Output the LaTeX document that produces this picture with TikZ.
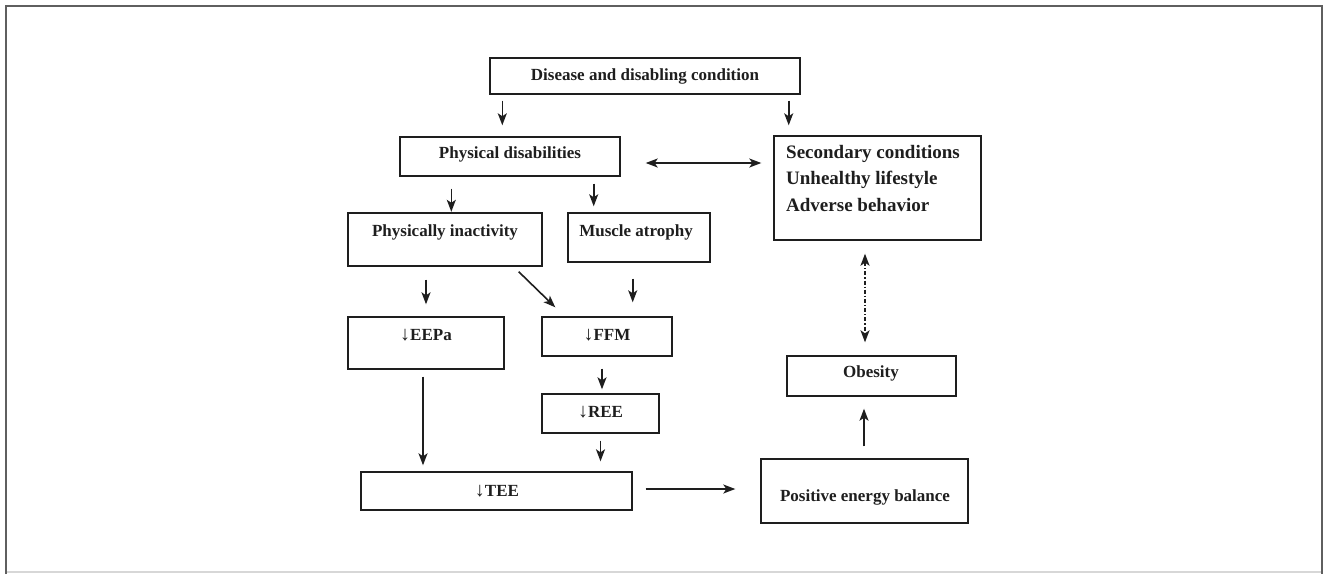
\documentclass[tikz,border=0pt]{standalone}
\usepackage{fontspec}
\setmainfont{Liberation Serif}
\usetikzlibrary{arrows.meta}
\definecolor{linec}{RGB}{30,30,30}
\definecolor{framec}{RGB}{95,95,95}
\definecolor{framel}{RGB}{215,215,215}
\newcommand{\dnarr}{{\fontsize{20}{20}\selectfont↓}}
\begin{document}
\begin{tikzpicture}[x=1pt,y=-1pt,
  box/.style={draw=linec, line width=1.4pt, inner sep=0pt, rectangle},
  txt/.style={font=\fontsize{17}{20}\selectfont\bfseries, text=linec, inner sep=0pt},
  bigtxt/.style={font=\fontsize{19}{24}\selectfont\bfseries, text=linec, inner sep=0pt},
  tip/.tip={Stealth[length=12pt,width=9pt,inset=3pt]},
  arr/.style={draw=linec, line width=1.6pt, -tip},
  dbl/.style={draw=linec, line width=1.6pt, tip-tip},
  dashdotarr/.style={dbl, dash pattern=on 4pt off 2pt on 1.2pt off 2pt}
]
\useasboundingbox (0,0) rectangle (1329,574);
% outer frame
\draw[framel, line width=1.2pt] (6,572) -- (1322,572);
\draw[framec, line width=2pt] (6,574) -- (6,5.5) -- (1322,5.5) -- (1322,574);

% boxes
\node[box, minimum width=310pt, minimum height=36pt, txt] (dis) at (645,76) {Disease and disabling condition};
\node[box, minimum width=220pt, minimum height=39pt] (phy) at (510,156.5) {};
\node[txt, anchor=base] (phyt) at (510,158.5) {Physical disabilities};
\node[box, minimum width=207pt, minimum height=104pt] (sec) at (877.5,188) {};
\node[bigtxt, anchor=base west] (sec1) at (786,158) {Secondary conditions};
\node[bigtxt, anchor=base west] (sec2) at (786,184.5) {Unhealthy lifestyle};
\node[bigtxt, anchor=base west] (sec3) at (786,211) {Adverse behavior};

\node[box, minimum width=194pt, minimum height=53pt] (pi) at (445,239.5) {};
\node[txt, anchor=base] (pit) at (445,236.5) {Physically inactivity};
\node[box, minimum width=142pt, minimum height=49pt] (ma) at (639,237.5) {};
\node[txt, anchor=base] (mat) at (636,236.5) {Muscle atrophy};

\node[box, minimum width=156pt, minimum height=52pt] (eepa) at (426,343) {};
\node[txt, anchor=base] (eepat) at (426,340.5) {\dnarr EEPa};
\node[box, minimum width=130pt, minimum height=39pt] (ffm) at (607,336.5) {};
\node[txt, anchor=base] (ffmt) at (607,340.5) {\dnarr FFM};
\node[box, minimum width=117pt, minimum height=39pt] (ree) at (600.5,413.5) {};
\node[txt, anchor=base] (reet) at (600.5,417) {\dnarr REE};
\node[box, minimum width=271pt, minimum height=38pt] (tee) at (496.5,491) {};
\node[txt, anchor=base] (teet) at (497,496) {\dnarr TEE};

\node[box, minimum width=207pt, minimum height=64pt] (peb) at (864.5,491) {};
\node[txt, anchor=base] (pebt) at (865,501.5) {Positive energy balance};
\node[box, minimum width=169pt, minimum height=40pt] (ob) at (871.5,376) {};
\node[txt, anchor=base] (obt) at (871,377.5) {Obesity};

% connector anchor points
\coordinate (c1) at ([xshift=13pt]dis.south west);
\coordinate (c2) at ([xshift=-12pt]dis.south east);
\coordinate (c3) at ([yshift=-6.5pt]phy.east);
\coordinate (c4) at ([xshift=52pt]phy.south west);
\coordinate (c5) at ([xshift=-27pt]phy.south east);
\coordinate (d1) at ([xshift=-24pt,yshift=-5pt]pi.south east);
\coordinate (d2) at ([xshift=14pt,yshift=9pt]ffm.north west);
\coordinate (c8) at ([xshift=-40pt]ffm.north east);
\coordinate (c9) at ([xshift=-5pt]ffm.south);
\coordinate (c10) at ([xshift=-3pt]eepa.south);
\coordinate (c11) at (ree.south);
\coordinate (c12) at ([yshift=2pt]tee.east);
\coordinate (c13) at ([xshift=-0.5pt]peb.north);
\coordinate (c14) at ([xshift=-12.5pt]sec.south);

% connectors
\draw[arr, shorten <=6pt, shorten >=11pt] (c1) -- (c1 |- phy.north);
\draw[arr, shorten <=6pt, shorten >=10pt] (c2) -- (c2 |- sec.north);
\draw[dbl, shorten <=25pt, shorten >=12pt] (c3) -- (c3 -| sec.west);
\draw[arr, shorten <=12pt, shorten >=0.5pt] (c4) -- (c4 |- pi.north);
\draw[arr, shorten <=7pt, shorten >=6pt] (c5) -- (c5 |- ma.north);
\draw[arr] (d1) -- (d2);
\draw[arr, shorten <=13pt, shorten >=12pt] (eepa.north |- pi.south) -- (eepa.north);
\draw[arr, shorten <=16pt, shorten >=14pt] (c8 |- ma.south) -- (c8);
\draw[arr, shorten <=12pt, shorten >=4pt] (c9) -- (c9 |- ree.north);
\draw[arr, shorten <=7pt, shorten >=6pt] (c10) -- (c10 |- tee.north);
\draw[arr, shorten <=7pt, shorten >=10pt] (c11) -- (c11 |- tee.north);
\draw[arr, shorten <=13pt, shorten >=25pt] (c12) -- (c12 -| peb.west);
\draw[arr, shorten <=12pt, shorten >=12pt] (c13) -- (c13 |- ob.south);
\draw[dashdotarr, shorten <=13pt, shorten >=13pt] (c14) -- (c14 |- ob.north);
\end{tikzpicture}
\end{document}
